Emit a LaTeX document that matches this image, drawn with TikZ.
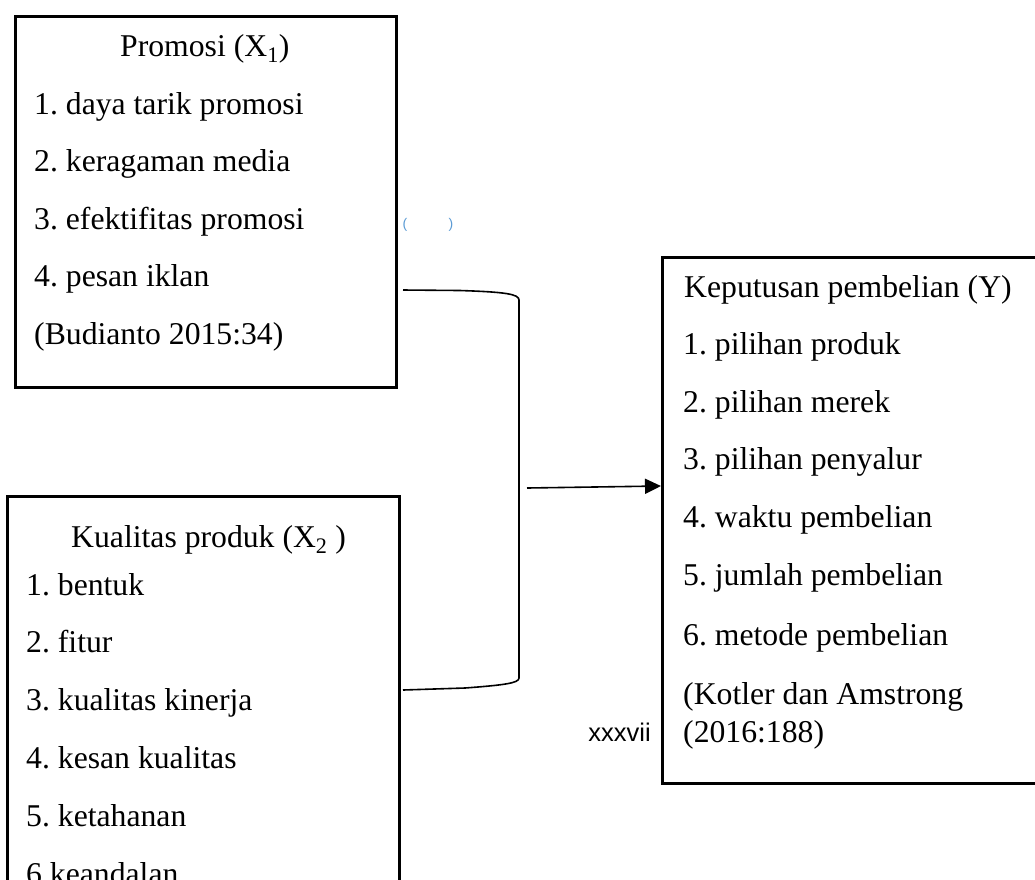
\documentclass[tikz,border=0pt]{standalone}
\usepackage{fontspec}
\setmainfont{Liberation Serif}
\newfontfamily\arialfont{Liberation Sans}
\usetikzlibrary{arrows.meta}
\definecolor{bracketblue}{HTML}{5B9BD5}
\frenchspacing
\tikzset{
  box/.style={draw=black, line width=3pt, rectangle, anchor=north west, inner sep=0pt},
  txt/.style={anchor=base west, inner sep=0pt, font=\frenchspacing\fontsize{31.7}{38}\selectfont},
  conn/.style={draw=black, line width=1.6pt},
  arr/.style={conn, -{Triangle[length=16pt,width=15pt]}},
  bmark/.style={anchor=center, inner sep=0pt, text=bracketblue, font=\arialfont\fontsize{14}{16}\selectfont},
}
\begin{document}
\begin{tikzpicture}[x=1pt,y=-1pt]
\useasboundingbox (0,0) rectangle (1035,879);
\clip (0,0) rectangle (1035,879);
\fill[white] (0,0) rectangle (1035,879);

% boxes
\node[box, minimum width=381pt, minimum height=371pt] (p) at (14,15) {};
\node[box, minimum width=392pt, minimum height=420pt] (k) at (6,495) {};
\node[box, minimum width=400pt, minimum height=526pt] (y) at (661,256) {};

% box 1 text
\node[txt] (p0) at (120,56) {Promosi (X\textsubscript{1})};
\node[txt] (p1) at (34,114) {1. daya tarik promosi};
\node[txt] (p2) at (34,171.5) {2. keragaman media};
\node[txt] (p3) at (34,229) {3. efektifitas promosi};
\node[txt] (p4) at (34,286.5) {4. pesan iklan};
\node[txt] (p5) at (34,344) {(Budianto 2015:34)};

% box 2 text
\node[txt] (k0) at (71,547) {Kualitas produk (X\textsubscript{2} )};
\node[txt] (k1) at (26,595) {1. bentuk};
\node[txt] (k2) at (26,652.5) {2. fitur};
\node[txt] (k3) at (26,710) {3. kualitas kinerja};
\node[txt] (k4) at (26,768) {4. kesan kualitas};
\node[txt] (k5) at (26,826) {5. ketahanan};
\node[txt] (k6) at (26,884) {6 keandalan};

% box 3 text
\node[txt] (y0) at (684,297) {Keputusan pembelian (Y)};
\node[txt] (y1) at (683,354.5) {1. pilihan produk};
\node[txt] (y2) at (683,412) {2. pilihan merek};
\node[txt] (y3) at (683,469.5) {3. pilihan penyalur};
\node[txt] (y4) at (683,527) {4. waktu pembelian};
\node[txt] (y5) at (683,585) {5. jumlah pembelian};
\node[txt] (y6) at (683,645) {6. metode pembelian};
\node[txt] (y7) at (683,704) {(Kotler dan Amstrong};
\node[txt] (y8) at (683,742) {(2016:188)};

% page number
\node[anchor=base east, inner sep=0pt, font=\arialfont\fontsize{25.5}{30}\selectfont] (pg) at (651,741) {xxxvii};

% blue bracket marks
\node[bmark] (bl) at (405,225) {(};
\node[bmark] (br) at (451,225) {)};

% connectors
\coordinate (a1) at (403,290);
\coordinate (a2) at (403,690);
\coordinate (m) at (527,488);
\draw[conn] (a1) -- (460,290.5) .. controls (505,292) and (519,294) .. (519,300)
  -- (519,678) .. controls (519,683) and (505,685) .. (465,688) -- (a2);
\draw[arr] (m) -- (y.west |- 0,486);
\end{tikzpicture}
\end{document}
